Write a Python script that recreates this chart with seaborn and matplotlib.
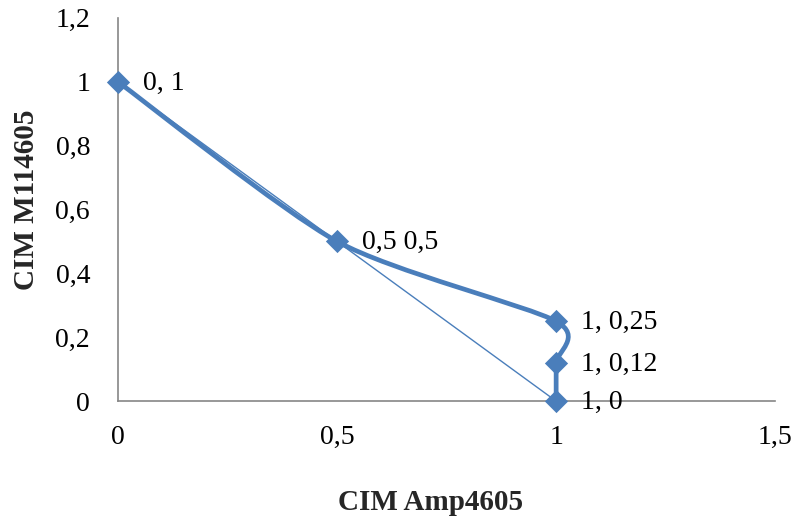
import numpy as np
import pandas as pd
import matplotlib
matplotlib.use("Agg")
import matplotlib.pyplot as plt
from matplotlib.path import Path
from matplotlib.patches import PathPatch
import seaborn as sns

# Curve points (CIM Amp4605 vs CIM M114605)
amp = [0, 0.5, 1, 1, 1]
m114 = [1, 0.5, 0.25, 0.12, 0]
point_labels = ["0, 1", "0,5 0,5", "1, 0,25", "1, 0,12", "1, 0"]

# Reference diagonal
diag_x = [0, 1]
diag_y = [1, 0]

x_ticks = [0, 0.5, 1, 1.5]
x_tick_labels = ["0", "0,5", "1", "1,5"]
y_ticks = [0, 0.2, 0.4, 0.6, 0.8, 1, 1.2]
y_tick_labels = ["0", "0,2", "0,4", "0,6", "0,8", "1", "1,2"]

BLUE = "#4A7EBB"
AXIS_GREY = "#868686"

sns.set_style("white")
plt.rcParams["font.family"] = ["Liberation Serif", "DejaVu Serif"]

fig = plt.figure(figsize=(7.96, 5.23), dpi=100)
ax = fig.add_axes([0.148, 0.233, 0.826, 0.733])

df = pd.DataFrame({"amp": amp, "m114": m114})
diag = pd.DataFrame({"x": diag_x, "y": diag_y})

sns.lineplot(data=diag, x="x", y="y", ax=ax, color=BLUE, linewidth=1.0,
             sort=False, estimator=None)

# Smoothed line through the points (cubic Bezier segments, Catmull-Rom tangents)
pts = np.column_stack([amp, m114]).astype(float)
tension = 1 / 6 * 0.75
verts = [pts[0]]
codes = [Path.MOVETO]
n = len(pts)
for i in range(n - 1):
    p0 = pts[max(i - 1, 0)]
    p1 = pts[i]
    p2 = pts[i + 1]
    p3 = pts[min(i + 2, n - 1)]
    c1 = p1 + (p2 - p0) * tension
    c2 = p2 - (p3 - p1) * tension
    verts += [c1, c2, p2]
    codes += [Path.CURVE4] * 3
ax.add_patch(PathPatch(Path(verts, codes), facecolor="none", edgecolor=BLUE,
                       linewidth=3.4, capstyle="round", joinstyle="round",
                       zorder=3))

sns.scatterplot(data=df, x="amp", y="m114", ax=ax, marker="D", s=140,
                color=BLUE, edgecolor=BLUE, linewidth=0, zorder=4,
                clip_on=False)

for xv, yv, lab in zip(amp, m114, point_labels):
    ax.annotate(lab, (xv, yv), xytext=(18, -1), textcoords="offset points",
                ha="left", va="center", fontsize=20, color="black", zorder=5)

ax.set_xlim(0, 1.5)
ax.set_ylim(0, 1.2)
ax.set_xticks(x_ticks)
ax.set_xticklabels(x_tick_labels)
ax.set_yticks(y_ticks)
ax.set_yticklabels(y_tick_labels)
ax.tick_params(axis="both", length=0, labelsize=20, colors="black")
ax.tick_params(axis="x", pad=17)
ax.tick_params(axis="y", pad=20)

for side in ["top", "right"]:
    ax.spines[side].set_visible(False)
for side in ["left", "bottom"]:
    ax.spines[side].set_color(AXIS_GREY)
    ax.spines[side].set_linewidth(1.2)

ax.set_xlabel("CIM Amp4605", fontsize=21, fontweight="bold")
ax.set_ylabel("CIM M114605", fontsize=21, fontweight="bold")
ax.xaxis.set_label_coords(0.476, -0.23)
ax.yaxis.set_label_coords(-0.119, 0.525)

fig.savefig("out.png", dpi=100)
